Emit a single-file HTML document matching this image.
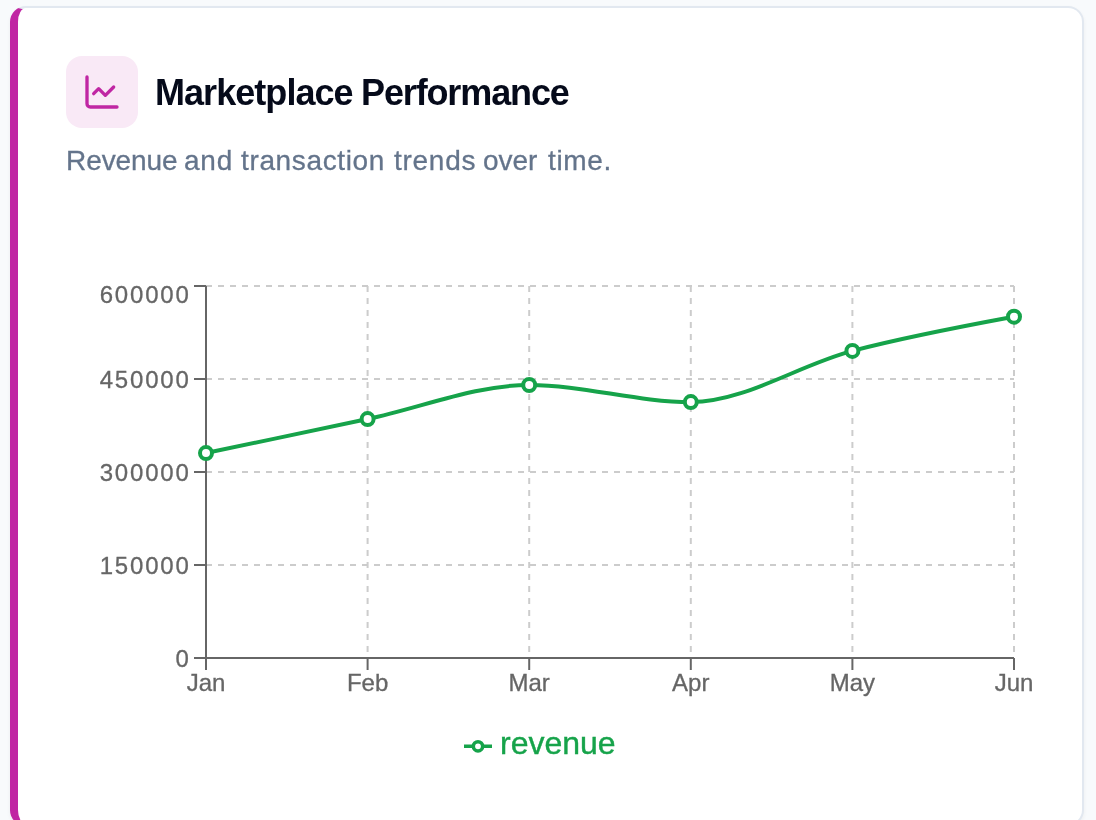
<!DOCTYPE html>
<html><head><meta charset="utf-8"><title>Marketplace Performance</title>
<style>
html,body{margin:0;padding:0;background:#f8fafc;width:1096px;height:820px;overflow:hidden;}
body{font-family:"Liberation Sans",Arial,sans-serif;-webkit-font-smoothing:antialiased;}
.title,.sub,svg.chart{will-change:transform;}
.card{position:absolute;left:10px;top:6px;width:1074px;height:820px;box-sizing:border-box;background:#fff;border:2px solid #e2e8f0;border-left:8px solid #c026a3;border-radius:16px;box-shadow:0 2px 4px rgba(0,0,0,.05);}
.ib{position:absolute;left:66px;top:56px;width:72px;height:72px;border-radius:16px;background:#f9e9f6;}
.ib svg{position:absolute;left:16px;top:16px;}
.title{position:absolute;top:75.4px;font-weight:700;font-size:36px;color:#050a1a;white-space:nowrap;line-height:1;}
.sub{position:absolute;top:146.8px;-webkit-text-stroke:0.3px #64748b;font-size:28px;color:#64748b;white-space:nowrap;line-height:1;}
svg.chart{position:absolute;left:0;top:0;}
.yt,.xt{font-family:"Liberation Sans",Arial,sans-serif;font-size:24px;fill:#666;stroke:#666;stroke-width:0.3px;}
.yt{letter-spacing:1.8px;}
.lg{font-family:"Liberation Sans",Arial,sans-serif;font-size:32px;fill:#16a34a;stroke:#16a34a;stroke-width:0.4px;}
</style></head><body>
<div class="card"></div>
<div class="ib"><svg width="40" height="40" viewBox="0 0 24 24" fill="none" stroke="#c026a3" stroke-width="2" stroke-linecap="round" stroke-linejoin="round"><path d="M3 3v16a2 2 0 0 0 2 2h16"/><path d="m19 9-5 5-4-4-3 3"/></svg></div>
<span class="title" style="left:155.10px;letter-spacing:-0.950px">Marketplace</span>
<span class="title" style="left:361.30px;letter-spacing:-1.130px">Performance</span>
<span class="sub" style="left:65.70px;letter-spacing:-0.083px">Revenue</span>
<span class="sub" style="left:184.20px;letter-spacing:0.750px">and</span>
<span class="sub" style="left:240.90px;letter-spacing:0.640px">transaction</span>
<span class="sub" style="left:393.70px;letter-spacing:0.720px">trends</span>
<span class="sub" style="left:483.20px;letter-spacing:-0.067px">over</span>
<span class="sub" style="left:547.90px;letter-spacing:0.650px">time.</span>
<svg class="chart" width="1096" height="820" viewBox="0 0 1096 820">
<line x1="206" y1="286" x2="1014" y2="286" stroke="#ccc" stroke-width="2" stroke-dasharray="6 6"/>
<line x1="206" y1="379" x2="1014" y2="379" stroke="#ccc" stroke-width="2" stroke-dasharray="6 6"/>
<line x1="206" y1="472" x2="1014" y2="472" stroke="#ccc" stroke-width="2" stroke-dasharray="6 6"/>
<line x1="206" y1="565" x2="1014" y2="565" stroke="#ccc" stroke-width="2" stroke-dasharray="6 6"/>
<line x1="206" y1="658" x2="1014" y2="658" stroke="#ccc" stroke-width="2" stroke-dasharray="6 6"/>
<line x1="206.0" y1="286" x2="206.0" y2="658" stroke="#ccc" stroke-width="2" stroke-dasharray="6 6"/>
<line x1="367.6" y1="286" x2="367.6" y2="658" stroke="#ccc" stroke-width="2" stroke-dasharray="6 6"/>
<line x1="529.2" y1="286" x2="529.2" y2="658" stroke="#ccc" stroke-width="2" stroke-dasharray="6 6"/>
<line x1="690.8" y1="286" x2="690.8" y2="658" stroke="#ccc" stroke-width="2" stroke-dasharray="6 6"/>
<line x1="852.4" y1="286" x2="852.4" y2="658" stroke="#ccc" stroke-width="2" stroke-dasharray="6 6"/>
<line x1="1014.0" y1="286" x2="1014.0" y2="658" stroke="#ccc" stroke-width="2" stroke-dasharray="6 6"/>
<line x1="206" y1="286" x2="206" y2="658" stroke="#666" stroke-width="2"/>
<line x1="206" y1="658" x2="1014" y2="658" stroke="#666" stroke-width="2"/>
<line x1="194" y1="286" x2="206" y2="286" stroke="#666" stroke-width="2"/>
<text class="yt" x="190.6" y="294" dy="0.355em" text-anchor="end">600000</text>
<line x1="194" y1="379" x2="206" y2="379" stroke="#666" stroke-width="2"/>
<text class="yt" x="190.6" y="379" dy="0.355em" text-anchor="end">450000</text>
<line x1="194" y1="472" x2="206" y2="472" stroke="#666" stroke-width="2"/>
<text class="yt" x="190.6" y="472" dy="0.355em" text-anchor="end">300000</text>
<line x1="194" y1="565" x2="206" y2="565" stroke="#666" stroke-width="2"/>
<text class="yt" x="190.6" y="565" dy="0.355em" text-anchor="end">150000</text>
<line x1="194" y1="658" x2="206" y2="658" stroke="#666" stroke-width="2"/>
<text class="yt" x="190.6" y="658" dy="0.355em" text-anchor="end">0</text>
<line x1="206.0" y1="658" x2="206.0" y2="670" stroke="#666" stroke-width="2"/>
<text class="xt" x="206.0" y="674" dy="0.71em" text-anchor="middle">Jan</text>
<line x1="367.6" y1="658" x2="367.6" y2="670" stroke="#666" stroke-width="2"/>
<text class="xt" x="367.6" y="674" dy="0.71em" text-anchor="middle">Feb</text>
<line x1="529.2" y1="658" x2="529.2" y2="670" stroke="#666" stroke-width="2"/>
<text class="xt" x="529.2" y="674" dy="0.71em" text-anchor="middle">Mar</text>
<line x1="690.8" y1="658" x2="690.8" y2="670" stroke="#666" stroke-width="2"/>
<text class="xt" x="690.8" y="674" dy="0.71em" text-anchor="middle">Apr</text>
<line x1="852.4" y1="658" x2="852.4" y2="670" stroke="#666" stroke-width="2"/>
<text class="xt" x="852.4" y="674" dy="0.71em" text-anchor="middle">May</text>
<line x1="1014.0" y1="658" x2="1014.0" y2="670" stroke="#666" stroke-width="2"/>
<text class="xt" x="1014.0" y="674" dy="0.71em" text-anchor="middle">Jun</text>
<path d="M206.00,453.07C259.87,441.74,313.73,430.42,367.60,419.07C421.47,407.72,475.33,384.98,529.20,384.98C583.07,384.98,636.93,402.07,690.80,402.07C744.67,402.07,798.53,365.13,852.40,350.90C906.27,336.67,960.13,326.69,1014.00,316.70" fill="none" stroke="#16a34a" stroke-width="4"/>
<circle cx="206.0" cy="453.07" r="6" fill="#fff" stroke="#16a34a" stroke-width="4"/>
<circle cx="367.6" cy="419.07" r="6" fill="#fff" stroke="#16a34a" stroke-width="4"/>
<circle cx="529.2" cy="384.98" r="6" fill="#fff" stroke="#16a34a" stroke-width="4"/>
<circle cx="690.8" cy="402.07" r="6" fill="#fff" stroke="#16a34a" stroke-width="4"/>
<circle cx="852.4" cy="350.9" r="6" fill="#fff" stroke="#16a34a" stroke-width="4"/>
<circle cx="1014.0" cy="316.7" r="6" fill="#fff" stroke="#16a34a" stroke-width="4"/>
<svg x="464" y="732.3" width="28" height="28" viewBox="0 0 32 32"><path stroke-width="4" fill="none" stroke="#16a34a" d="M0,16h10.667A5.333,5.333,0,1,1,21.333,16H32M21.333,16A5.333,5.333,0,1,1,10.667,16"/></svg>
<text class="lg" x="500" y="753.7">revenue</text>
</svg>
</body></html>
